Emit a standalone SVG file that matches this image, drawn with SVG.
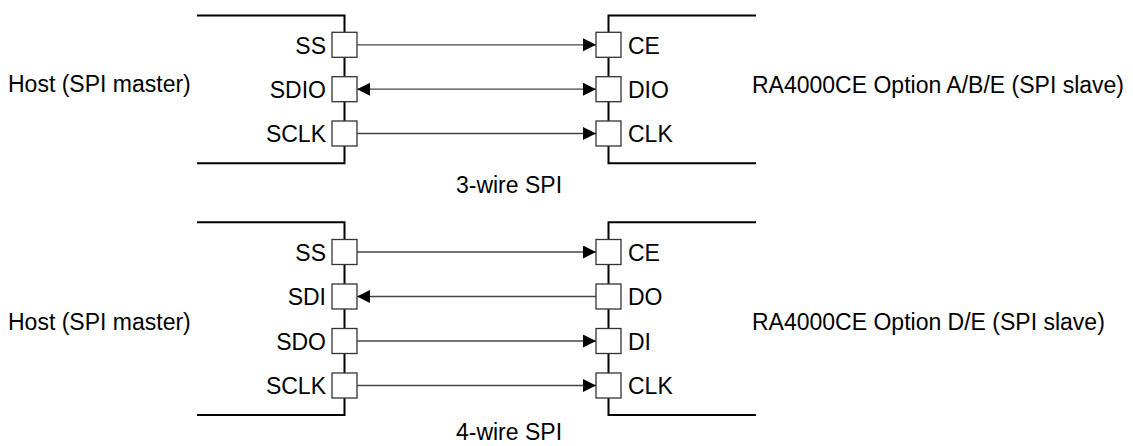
<svg xmlns="http://www.w3.org/2000/svg" width="1133" height="446" viewBox="0 0 1133 446">
  <style>
    .frame { fill: none; stroke: #000; stroke-width: 2; }
    .pin { fill: #fff; stroke: #333; stroke-width: 1.3; }
    .wire { fill: none; stroke: #444; stroke-width: 1.3; }
    .t { font-family: "Liberation Sans", Arial, sans-serif; font-size: 23px; fill: #000; }
    .end { text-anchor: end; }
    .mid { text-anchor: middle; }
  </style>
  <defs>
    <marker id="ah" markerUnits="userSpaceOnUse" markerWidth="14" markerHeight="14" refX="13" refY="6.5" orient="auto-start-reverse" viewBox="0 0 14 14">
      <path d="M0,0 L13,6.5 L0,13 Z" fill="#000"/>
    </marker>
  </defs>

  <g id="host1">
    <path class="frame" d="M197,15.5 H344.5 V163.3 H197"/>
    <rect class="pin" x="332" y="32.3" width="25" height="25"/>
    <rect class="pin" x="332" y="76.7" width="25" height="25"/>
    <rect class="pin" x="332" y="121" width="25" height="25"/>
    <text class="t" x="8" y="91.5">Host (SPI master)</text>
    <text class="t end" x="326" y="53.6">SS</text>
    <text class="t end" x="326" y="98">SDIO</text>
    <text class="t end" x="326" y="142.3">SCLK</text>
  </g>

  <g id="slave1">
    <path class="frame" d="M756,15.5 H608.5 V163.3 H756"/>
    <rect class="pin" x="596" y="32.3" width="25" height="25"/>
    <rect class="pin" x="596" y="76.7" width="25" height="25"/>
    <rect class="pin" x="596" y="121" width="25" height="25"/>
    <text class="t" x="752" y="92.5">RA4000CE Option A/B/E (SPI slave)</text>
    <text class="t" x="628" y="53.6">CE</text>
    <text class="t" x="628" y="98">DIO</text>
    <text class="t" x="628" y="142.3">CLK</text>
  </g>

  <g id="label1">
    <text class="t mid" x="509" y="193">3-wire SPI</text>
  </g>

  <g id="host2">
    <path class="frame" d="M197,222.3 H344.5 V415 H197"/>
    <rect class="pin" x="332" y="239.5" width="25" height="25"/>
    <rect class="pin" x="332" y="284" width="25" height="25"/>
    <rect class="pin" x="332" y="328.5" width="25" height="25"/>
    <rect class="pin" x="332" y="373" width="25" height="25"/>
    <text class="t" x="8" y="329.5">Host (SPI master)</text>
    <text class="t end" x="326" y="260.8">SS</text>
    <text class="t end" x="326" y="305.3">SDI</text>
    <text class="t end" x="326" y="349.8">SDO</text>
    <text class="t end" x="326" y="394.3">SCLK</text>
  </g>

  <g id="slave2">
    <path class="frame" d="M756,222.3 H608.5 V415 H756"/>
    <rect class="pin" x="596" y="239.5" width="25" height="25"/>
    <rect class="pin" x="596" y="284" width="25" height="25"/>
    <rect class="pin" x="596" y="328.5" width="25" height="25"/>
    <rect class="pin" x="596" y="373" width="25" height="25"/>
    <text class="t" x="752" y="329.5">RA4000CE Option D/E (SPI slave)</text>
    <text class="t" x="628" y="260.8">CE</text>
    <text class="t" x="628" y="305.3">DO</text>
    <text class="t" x="628" y="349.8">DI</text>
    <text class="t" x="628" y="394.3">CLK</text>
  </g>

  <g id="label2">
    <text class="t mid" x="509" y="440">4-wire SPI</text>
  </g>

  <g id="connectors">
    <line class="wire" x1="357" y1="44.8" x2="596" y2="44.8" marker-end="url(#ah)"/>
    <line class="wire" x1="357" y1="89.2" x2="596" y2="89.2" marker-start="url(#ah)" marker-end="url(#ah)"/>
    <line class="wire" x1="357" y1="133.5" x2="596" y2="133.5" marker-end="url(#ah)"/>
    <line class="wire" x1="357" y1="252" x2="596" y2="252" marker-end="url(#ah)"/>
    <line class="wire" x1="357" y1="296.5" x2="596" y2="296.5" marker-start="url(#ah)"/>
    <line class="wire" x1="357" y1="341" x2="596" y2="341" marker-end="url(#ah)"/>
    <line class="wire" x1="357" y1="385.5" x2="596" y2="385.5" marker-end="url(#ah)"/>
  </g>
</svg>
